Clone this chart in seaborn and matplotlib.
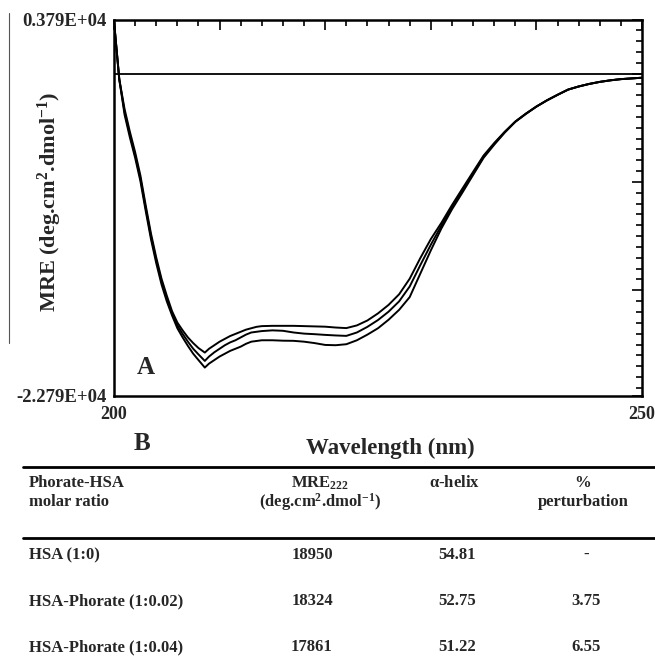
import matplotlib

matplotlib.use("Agg")
import matplotlib.pyplot as plt
import matplotlib.ticker as mtick
import seaborn as sns
from matplotlib.lines import Line2D

# --- data ---
wavelength = [
    200, 200.5, 201, 201.5, 202, 202.5, 203, 203.5, 204, 204.5, 205, 205.5,
    206, 206.5, 207, 207.5, 208, 208.6, 209, 209.5, 210, 210.5, 211, 211.5,
    212, 212.5, 213, 213.5, 214, 215, 216, 217, 218, 219, 220, 221, 222, 223,
    224, 225, 226, 227, 228, 229, 230, 231, 232, 233, 234, 235, 236, 237, 238,
    239, 240, 241, 242, 243, 244, 245, 246, 247, 248, 249, 250,
]
mre_hsa = [
    3700, -400, -2900, -4500, -5950, -7600, -9700, -11700, -13400, -14900, -16100, -17100,
    -18000, -18650, -19250, -19800, -20250, -20780, -20500, -20250, -20000, -19800, -19600, -19450,
    -19300, -19100, -18950, -18900, -18850, -18850, -18880, -18890, -18950, -19050, -19180, -19200, -19130, -18850,
    -18450, -18000, -17400, -16700, -15800, -14150, -12500, -10950, -9600, -8400, -7170, -5950, -5030, -4170, -3410,
    -2850, -2330, -1890, -1500, -1130, -910, -730, -585, -475, -390, -340, -290,
]
mre_002 = [
    3700, -400, -2700, -4300, -5750, -7400, -9500, -11500, -13200, -14700, -15900, -16950,
    -17800, -18400, -18950, -19450, -19850, -20310, -20000, -19700, -19450, -19200, -19000, -18850,
    -18650, -18450, -18300, -18250, -18200, -18150, -18180, -18300, -18380, -18420, -18470, -18510, -18540, -18300,
    -17900, -17420, -16830, -16100, -15050, -13550, -12100, -10750, -9450, -8260, -7060, -5870, -4970, -4140, -3400,
    -2840, -2330, -1890, -1500, -1130, -910, -730, -585, -475, -390, -340, -290,
]
mre_004 = [
    3700, -400, -2500, -4100, -5550, -7200, -9300, -11300, -13000, -14500, -15700, -16800,
    -17600, -18150, -18650, -19050, -19400, -19720, -19450, -19200, -18950, -18750, -18550, -18400,
    -18250, -18100, -18000, -17900, -17850, -17830, -17830, -17830, -17850, -17870, -17890, -17950, -17990, -17800,
    -17450, -16950, -16350, -15600, -14500, -13050, -11700, -10550, -9300, -8120, -6950, -5790, -4910, -4110, -3390,
    -2830, -2330, -1890, -1500, -1130, -910, -730, -585, -475, -390, -340, -290,
]

y_min, y_max = -22790, 3790
x_ticks = [200, 210, 220, 230, 240, 250]
x_ticklabels = ["200", "", "", "", "", "250"]
y_ticks = [-22790, -15320, -7660, 0, 3790]
y_ticklabels = ["-2.279E+04", "", "", "", "0.379E+04"]

# table B
table_header = [
    ["Phorate-HSA", "molar ratio"],
    [r"MRE$_{\mathbf{222}}$", r"(deg.cm$^{\mathbf{2}}$.dmol$^{\mathbf{-1}}$)"],
    [r"$\mathbf{\alpha}$-helix", ""],
    ["%", "perturbation"],
]
ratio_labels = ["HSA (1:0)", "HSA-Phorate (1:0.02)", "HSA-Phorate (1:0.04)"]
mre222_values = ["18950", "18324", "17861"]
helix_values = ["54.81", "52.75", "51.22"]
perturbation_values = ["-", "3.75", "6.55"]

# --- style ---
sns.set_style("white")
plt.rcParams["font.family"] = ["Liberation Serif", "DejaVu Serif"]
plt.rcParams["font.weight"] = "bold"
plt.rcParams["mathtext.fontset"] = "custom"
plt.rcParams["mathtext.rm"] = "Liberation Serif:bold"
plt.rcParams["mathtext.bf"] = "Liberation Serif:bold"
plt.rcParams["mathtext.it"] = "Liberation Serif:bold"

W, H = 655, 666
fig = plt.figure(figsize=(W / 100, H / 100), dpi=100)
ax = fig.add_axes([114 / W, 1 - 396 / H, 528 / W, 376 / H])

for vals in (mre_hsa, mre_002, mre_004):
    sns.lineplot(x=wavelength, y=vals, ax=ax, color="black", linewidth=1.4,
                 estimator=None, sort=False)
ax.axhline(0, color="black", linewidth=1.3)

ax.set_xlim(200, 250)
ax.set_ylim(y_min, y_max)
ax.set_xticks(x_ticks, x_ticklabels)
ax.set_yticks(y_ticks, y_ticklabels)
ax.xaxis.set_minor_locator(mtick.MultipleLocator(2))
ax.yaxis.set_minor_locator(mtick.MultipleLocator(766))
ax.tick_params(which="both", direction="in", top=True, right=True,
               width=1.2, color="black")
ax.tick_params(which="major", length=7)
ax.tick_params(which="minor", length=4)
ax.tick_params(axis="y", labelsize=13.5, pad=5)
ax.tick_params(axis="x", labelsize=13, pad=7)
for spine in ax.spines.values():
    spine.set_linewidth(1.8)
    spine.set_color("black")

ax.set_ylabel(r"MRE (deg.cm$^{\mathbf{2}}$.dmol$^{\mathbf{-1}}$)", fontsize=16,
              fontweight="bold")
ax.yaxis.set_label_coords((64 - 114) / 528, (396 - 202) / 376)
ax.set_xlabel("Wavelength (nm)", fontsize=16.5, fontweight="bold")
ax.xaxis.set_label_coords((390 - 114) / 528, (396 - 438) / 376)

# panel letter A inside the plot, near the lower left corner
ax.text(0.06, 0.075, "A", transform=ax.transAxes, fontsize=18,
        fontweight="bold", ha="center", va="center")


def fx(px):
    return px / W


def fy(py):
    return 1 - py / H


fig.text(fx(142), fy(443), "B", fontsize=18, fontweight="bold", ha="center", va="center")

# stray vertical rule at the far left of the scan
fig.add_artist(Line2D([fx(9), fx(9)], [fy(13), fy(343)], color="#555555", linewidth=0.8))

# table lines
for ly in (467, 538):
    fig.add_artist(Line2D([fx(23), fx(655)], [fy(ly), fy(ly)], color="black", linewidth=2))

tfs = 12
header_x = [(29, "left"), (320, "center"), (454, "center"), (583, "center")]
for (hx, ha), lines in zip(header_x, table_header):
    for ly, txt in zip((483, 502), lines):
        if txt:
            fig.text(fx(hx), fy(ly), txt, fontsize=tfs, fontweight="bold", ha=ha, va="center")

row_y = [555, 601, 647]
for ry, lab, mre, hel, per in zip(row_y, ratio_labels, mre222_values, helix_values, perturbation_values):
    fig.text(fx(29), fy(ry), lab, fontsize=tfs, fontweight="bold", ha="left", va="center")
    fig.text(fx(312), fy(ry), mre, fontsize=tfs, fontweight="bold", ha="center", va="center")
    fig.text(fx(457), fy(ry), hel, fontsize=tfs, fontweight="bold", ha="center", va="center")
    fig.text(fx(586), fy(ry), per, fontsize=tfs, fontweight="bold", ha="center", va="center")

fig.savefig("out.png", dpi=100)
